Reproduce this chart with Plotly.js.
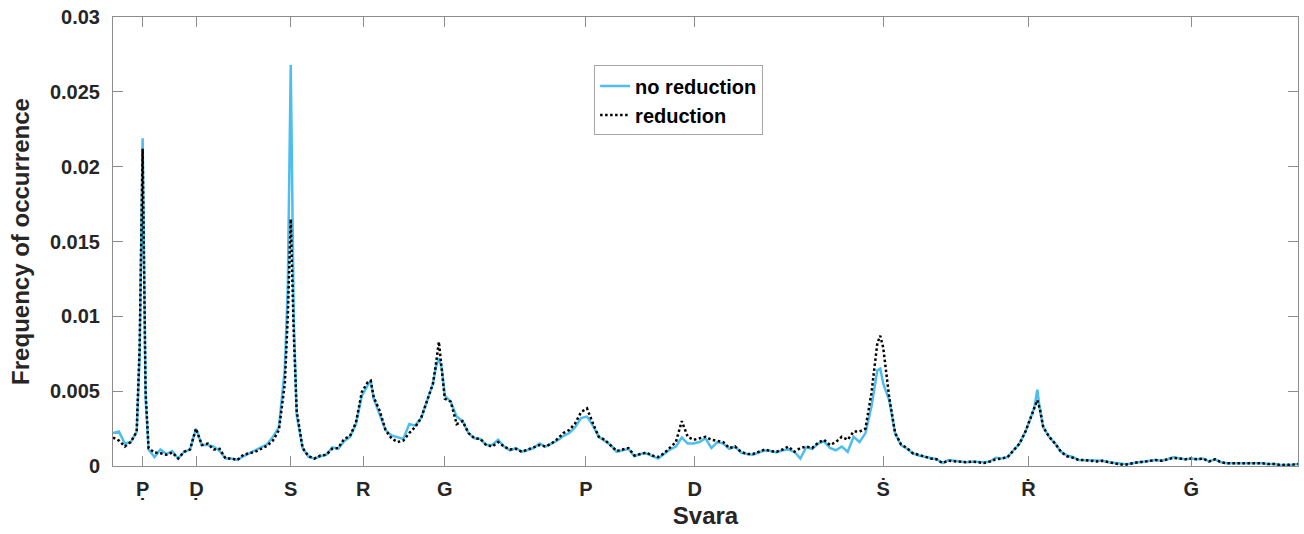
<!DOCTYPE html>
<html>
<head>
<meta charset="utf-8">
<script src="https://cdn.plot.ly/plotly-3.0.1.min.js"></script>
<style>html,body{margin:0;padding:0;background:#fff;}#chart{width:1304px;height:534px;}</style>
</head>
<body>
<div id="chart"></div>
<script>
// frequency ratio relative to the tonic S
const ratio = [
0.70,0.71,0.72,0.73,0.74,0.745,0.75,0.755,0.76,0.77,0.78,0.79,0.80,0.81,0.82,0.83,0.84,0.85,0.86,0.87,0.88,0.89,
0.90,0.91,0.92,0.93,0.94,0.95,0.96,0.97,0.98,0.99,0.995,1.00,1.005,1.01,1.02,1.03,1.04,1.05,1.06,1.07,1.08,1.09,
1.10,1.11,1.12,1.13,1.135,1.14,1.15,1.16,1.17,1.18,1.19,1.20,1.21,1.22,1.23,1.24,1.245,1.25,1.255,1.26,1.27,1.28,1.29,
1.30,1.31,1.32,1.33,1.34,1.35,1.36,1.37,1.38,1.39,1.40,1.41,1.42,1.43,1.44,1.45,1.46,1.47,1.48,1.49,
1.50,1.51,1.52,1.53,1.54,1.55,1.56,1.57,1.58,1.59,1.60,1.61,1.62,1.63,1.64,1.65,1.66,1.67,1.68,1.69,
1.70,1.71,1.72,1.73,1.74,1.75,1.76,1.77,1.78,1.79,1.80,1.81,1.82,1.83,1.84,1.85,1.86,1.87,1.88,1.89,
1.90,1.91,1.92,1.93,1.94,1.95,1.96,1.97,1.98,1.99,1.995,2.00,2.01,2.02,2.03,2.04,2.05,2.06,2.07,2.08,2.09,
2.10,2.11,2.12,2.13,2.14,2.15,2.16,2.17,2.18,2.19,2.20,2.21,2.22,2.23,2.24,2.25,2.255,2.26,2.265,2.27,2.28,2.29,
2.30,2.31,2.32,2.33,2.34,2.35,2.36,2.37,2.38,2.39,2.40,2.41,2.42,2.43,2.44,2.45,2.46,2.47,2.48,2.49,
2.50,2.51,2.52,2.53,2.54,2.55,2.56,2.57,2.58,2.59,2.60,2.61,2.62,2.63,2.64,2.65,2.66,2.67,2.68,2.69,2.70
];

const noReduction = [
0.0022,0.0023,0.0015,0.0016,0.0023,0.0075,0.0219,0.0045,0.0011,0.0006,0.0011,0.0008,0.0010,0.0005,0.00095,0.0011,0.0025,0.0014,0.0014,0.0013,0.0010,0.0005,
0.0005,0.0004,0.00065,0.00085,0.0010,0.0012,0.00145,0.00195,0.0026,0.0065,0.0120,0.0268,0.0100,0.0034,0.0012,0.0006,0.0005,0.00065,0.00075,0.00125,0.00115,0.00165,
0.00195,0.0028,0.0047,0.0054,0.0057,0.0045,0.0035,0.0024,0.00205,0.00195,0.0018,0.0028,0.0027,0.0032,0.0043,0.0055,0.0066,0.0072,0.0065,0.0047,0.0043,0.0033,0.0030,
0.0022,0.00185,0.0018,0.0014,0.0014,0.00175,0.0013,0.00105,0.0012,0.00095,0.00105,0.0012,0.0015,0.0013,0.0015,0.0017,0.0020,0.0022,0.0026,0.0032,
0.0033,0.0027,0.00195,0.0017,0.0014,0.00095,0.00105,0.00115,0.00065,0.0008,0.00085,0.00065,0.0005,0.0008,0.0011,0.0013,0.0019,0.0015,0.0015,0.0016,
0.00185,0.0012,0.0016,0.0015,0.00115,0.0013,0.0009,0.0008,0.00075,0.0009,0.00105,0.0010,0.0009,0.00105,0.0011,0.00095,0.0005,0.00125,0.00115,0.0015,
0.00165,0.0012,0.00105,0.0013,0.00095,0.00195,0.0016,0.0022,0.00395,0.0064,0.0065,0.0055,0.0044,0.0022,0.0014,0.00115,0.00085,0.0007,0.0006,0.0005,0.00045,
0.0002,0.0004,0.00035,0.0003,0.00025,0.0003,0.00025,0.00025,0.0003,0.00055,0.0005,0.0006,0.00105,0.0015,0.0023,0.0033,0.0039,0.0051,0.0036,0.0026,0.00195,0.0015,
0.00095,0.0007,0.0006,0.0004,0.0004,0.00035,0.00035,0.00035,0.00025,0.0002,0.00012,0.00012,0.00018,0.00025,0.0003,0.00035,0.0004,0.00035,0.00045,0.0006,
0.0005,0.00045,0.0005,0.00045,0.0005,0.0003,0.00045,0.00025,0.00018,0.00018,0.00022,0.00018,0.00022,0.00018,0.00018,0.00013,0.00013,0.00007,0.00007,0.00009,0.00013
];

const reduction = [
0.0019,0.0017,0.0013,0.0016,0.0023,0.0080,0.0212,0.0050,0.0012,0.0009,0.00085,0.00075,0.0009,0.0005,0.00095,0.0011,0.0025,0.0014,0.0015,0.0011,0.00115,0.0005,
0.0005,0.0004,0.00075,0.00085,0.00095,0.00115,0.00135,0.0017,0.0024,0.0055,0.0100,0.0165,0.0090,0.0037,0.0012,0.00065,0.0005,0.0007,0.00075,0.00115,0.0012,0.0018,
0.0020,0.0029,0.00495,0.0056,0.0057,0.0046,0.0037,0.0024,0.00185,0.0016,0.0017,0.0022,0.0026,0.0032,0.0043,0.0055,0.0068,0.0083,0.0064,0.0045,0.0043,0.0028,0.0030,
0.0022,0.00185,0.0018,0.0014,0.0013,0.0016,0.0013,0.0011,0.00115,0.00095,0.0011,0.00125,0.0014,0.0013,0.0015,0.0018,0.0022,0.0024,0.00285,0.0036,
0.00385,0.00285,0.00195,0.00175,0.0014,0.0010,0.0011,0.0012,0.0007,0.0008,0.0009,0.0007,0.0006,0.00085,0.0012,0.0016,0.0030,0.00195,0.00175,0.00185,
0.00195,0.00175,0.0017,0.0016,0.0012,0.0013,0.00095,0.0008,0.0008,0.00095,0.0011,0.0010,0.00095,0.0011,0.0013,0.00095,0.0012,0.0013,0.0012,0.00155,
0.00175,0.0014,0.0016,0.00195,0.00175,0.0023,0.0023,0.0025,0.00485,0.0082,0.0087,0.0079,0.0046,0.0022,0.00145,0.0012,0.00085,0.00075,0.0006,0.0005,0.00045,
0.0002,0.00035,0.0003,0.0003,0.00025,0.0003,0.00025,0.0002,0.0003,0.00045,0.0005,0.0006,0.00105,0.0015,0.0023,0.0033,0.0038,0.0044,0.0037,0.0026,0.00195,0.0015,
0.00095,0.00065,0.00055,0.0004,0.0004,0.00035,0.0003,0.00035,0.00025,0.00018,0.0001,0.0001,0.00018,0.00025,0.00028,0.00035,0.0004,0.00035,0.00045,0.00055,
0.0005,0.00045,0.0005,0.00045,0.0005,0.0003,0.00045,0.00025,0.00018,0.00018,0.00022,0.00018,0.00022,0.00018,0.00018,0.00013,0.00013,0.00007,0.00007,0.00009,0.00013
];

const svaraTicks = [0.75, 0.8409, 1.0, 1.1225, 1.2599, 1.4983, 1.6818, 2.0, 2.2449, 2.5198];
const svaraLabels = ['P\u0323', '\u1E0C', 'S', 'R', 'G', 'P', 'D', '\u1E60', '\u1E58', '\u0120'];
const yTicks = [0, 0.005, 0.01, 0.015, 0.02, 0.025, 0.03];
const yLabels = ['0', '0.005', '0.01', '0.015', '0.02', '0.025', '0.03'];

const FONT = 'Liberation Sans, Arial, Helvetica, sans-serif';
const TXT = '#262626';

const traces = [
  {
    x: ratio, y: noReduction, type: 'scatter', mode: 'lines', name: 'no reduction',
    line: {color: '#4DBEEE', width: 2.5}
  },
  {
    x: ratio, y: reduction, type: 'scatter', mode: 'lines', name: 'reduction',
    line: {color: '#000000', width: 2.5, dash: '2.5px,2.5px'}
  }
];

const layout = {
  width: 1304, height: 534,
  margin: {l: 113, r: 6, t: 17, b: 68},
  paper_bgcolor: '#ffffff', plot_bgcolor: '#ffffff',
  font: {family: FONT, color: TXT},
  showlegend: true,
  legend: {
    x: 0.406, y: 0.892, xanchor: 'left', yanchor: 'top',
    bgcolor: '#ffffff', bordercolor: '#a6a6a6', borderwidth: 1,
    font: {family: FONT, size: 20, color: '#000000', weight: 'bold'},
    tracegroupgap: 0
  },
  xaxis: {
    range: [0.7, 2.7], tickmode: 'array', tickvals: svaraTicks, ticktext: svaraLabels,
    ticks: 'inside', ticklen: 10, tickwidth: 1, tickcolor: '#8c8c8c',
    showline: true, linecolor: '#8c8c8c', linewidth: 1, mirror: 'ticks',
    showgrid: false, zeroline: false,
    tickfont: {family: FONT, size: 20, color: TXT, weight: 'bold'},
    ticklabelstandoff: 5,
    title: {text: 'Svara', font: {family: FONT, size: 24, color: TXT, weight: 'bold'}, standoff: 8}
  },
  yaxis: {
    range: [0, 0.03], tickmode: 'array', tickvals: yTicks, ticktext: yLabels,
    ticks: 'inside', ticklen: 10, tickwidth: 1, tickcolor: '#8c8c8c',
    showline: true, linecolor: '#8c8c8c', linewidth: 1, mirror: 'ticks',
    showgrid: false, zeroline: false,
    tickfont: {family: FONT, size: 20, color: TXT, weight: 'bold'},
    ticklabelstandoff: 8,
    title: {text: 'Frequency of occurrence', font: {family: FONT, size: 24, color: TXT, weight: 'bold'}, standoff: 13}
  }
};

Plotly.newPlot('chart', traces, layout, {displayModeBar: false, staticPlot: true});
</script>
</body>
</html>
